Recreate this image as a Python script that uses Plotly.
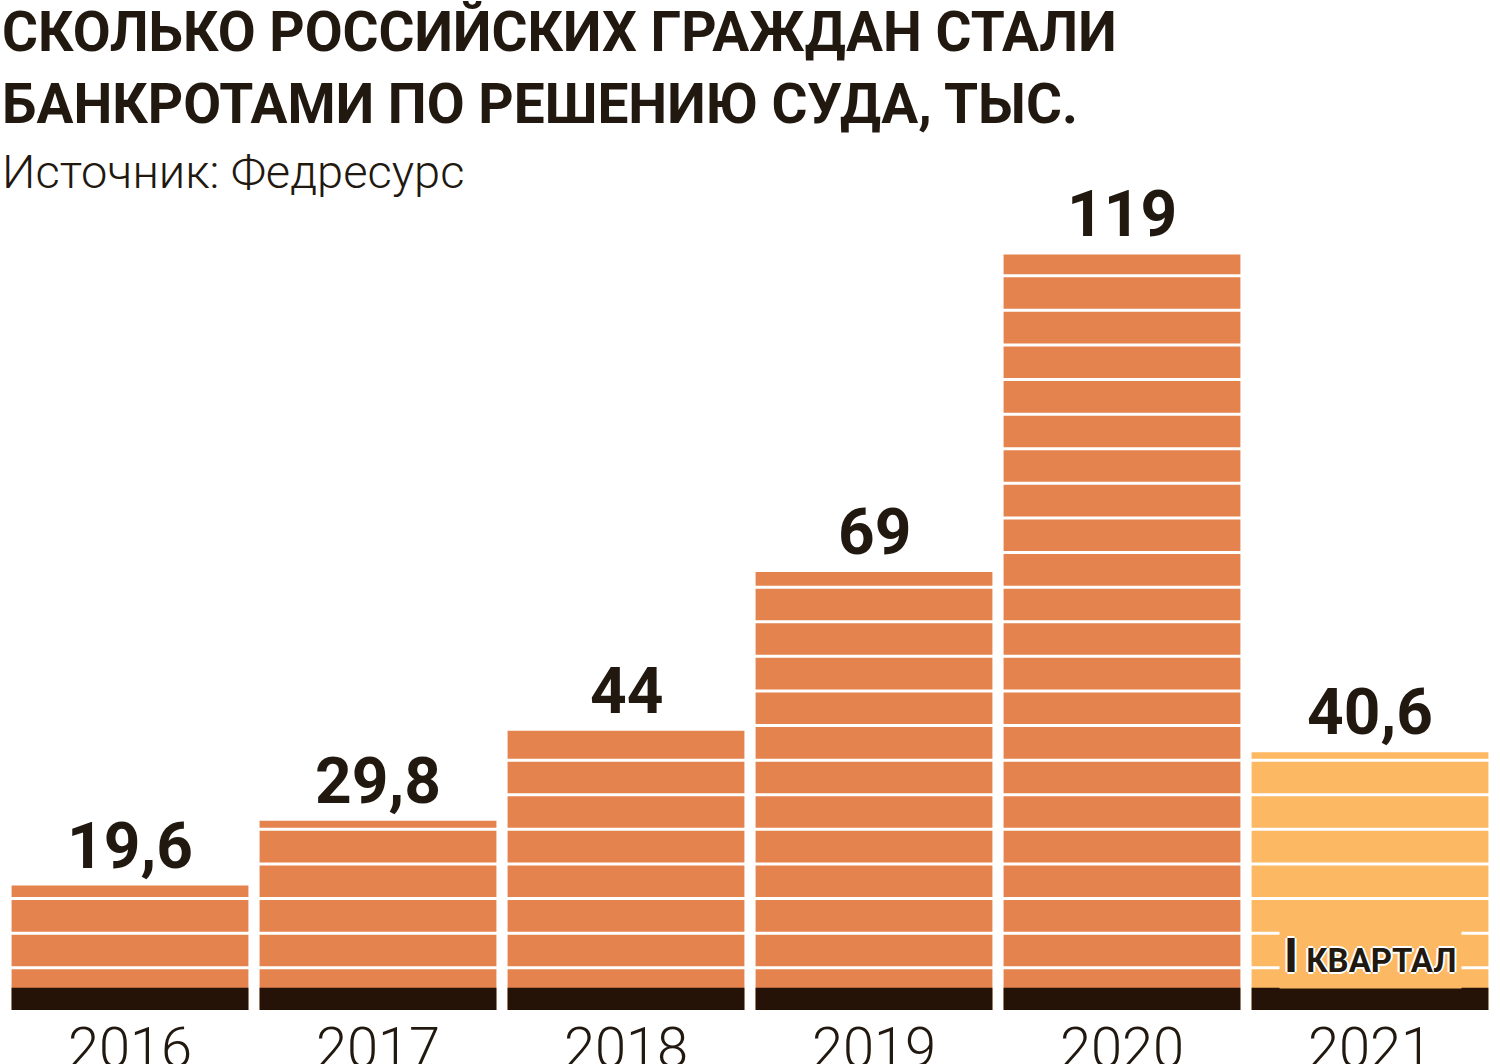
import plotly.graph_objects as go

years = ["2016", "2017", "2018", "2019", "2020", "2021"]
values = [19.6, 29.8, 44, 69, 119, 40.6]
labels = ["19,6", "29,8", "44", "69", "119", "40,6"]
bar_colors = ["#E4834E", "#E4834E", "#E4834E", "#E4834E", "#E4834E", "#FDB863"]
base_band = [3.5] * len(years)

TXT = "#211810"
FONT = "Roboto"

PLOT_TOP, PLOT_BOT = 210, 1010


def py(p):
    """pixel row -> paper y"""
    return (PLOT_BOT - p) / (PLOT_BOT - PLOT_TOP)


fig = go.Figure()
fig.add_trace(go.Bar(x=years, y=values, marker=dict(color=bar_colors, line=dict(width=0)),
                     hoverinfo="skip"))
fig.add_trace(go.Bar(x=years, y=base_band, marker=dict(color="#241306", line=dict(width=0)),
                     hoverinfo="skip"))

# white horizontal stripes across bars
stripe0, step = 6.65, 5.45
k = 0
while stripe0 + k * step < 125:
    yv = stripe0 + k * step
    fig.add_shape(type="line", xref="paper", yref="y", x0=0, x1=1, y0=yv, y1=yv,
                  line=dict(color="white", width=3), layer="above")
    k += 1

for i, (v, t) in enumerate(zip(values, labels)):
    fig.add_annotation(x=i, y=v, text=t, showarrow=False, yanchor="bottom", yshift=0,
                       font=dict(family=FONT, size=64, color=TXT, weight=700))

fig.add_annotation(x=len(years) - 1, y=8.6,
                   text="<span style='font-size:48px'>I</span> КВАРТАЛ",
                   showarrow=False, bgcolor="#FDB863", borderpad=4,
                   font=dict(family=FONT, size=33, color=TXT, weight=700,
                             shadow="2px 0 0 #fff, -2px 0 0 #fff, 0 2px 0 #fff, 0 -2px 0 #fff"))

fig.add_annotation(xref="paper", yref="paper", x=0, y=py(-2), xanchor="left", yanchor="top",
                   xshift=-6, align="left", showarrow=False,
                   text="СКОЛЬКО РОССИЙСКИХ ГРАЖДАН СТАЛИ<br>БАНКРОТАМИ ПО РЕШЕНИЮ СУДА, ТЫС.",
                   font=dict(family=FONT, size=55, color=TXT, weight=700))

fig.add_annotation(xref="paper", yref="paper", x=0, y=py(142), xanchor="left", yanchor="top",
                   xshift=-6, align="left", showarrow=False,
                   text="Источник: Федресурс",
                   font=dict(family=FONT, size=47, color=TXT, weight=300))

fig.update_layout(
    width=1500, height=1064,
    margin=dict(l=6, r=6, t=PLOT_TOP, b=1064 - PLOT_BOT),
    paper_bgcolor="white", plot_bgcolor="white",
    barmode="overlay", bargap=0.045, showlegend=False,
    xaxis=dict(type="category", range=[-0.5, len(years) - 0.5], autorange=False,
               showgrid=False, showline=False, zeroline=False, ticks="",
               automargin=False,
               tickfont=dict(family=FONT, size=56, color=TXT, weight=300)),
    yaxis=dict(range=[0, 126], visible=False, showgrid=False, zeroline=False),
)
fig.write_html("out.html")
